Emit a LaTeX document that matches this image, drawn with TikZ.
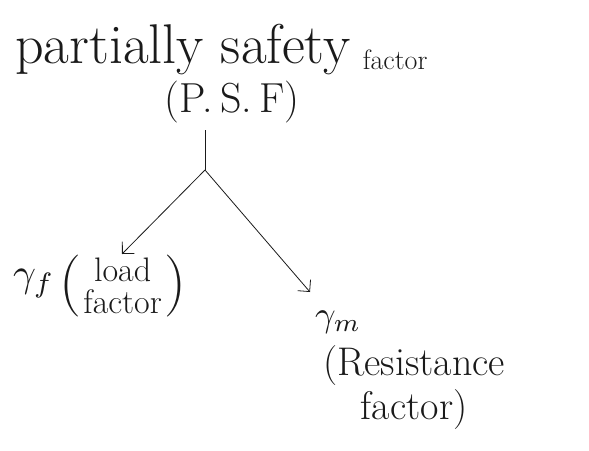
\documentclass[tikz,border=0pt]{standalone}
\usepackage{amsmath,amssymb}
\usepackage{graphicx}
\usepackage{xcolor}
\usepackage{tikz}
\usetikzlibrary{arrows.meta,positioning}
\definecolor{ink}{HTML}{1A1A1A}
\newcommand{\biggam}[2]{\scalebox{#1}{$\gamma_{#2}$}}
\tikzset{
  label/.style={text=ink,inner sep=1pt,align=center},
  arrow/.style={-{Straight Barb[length=3mm]},thick,draw=ink}
}
\begin{document}
\begin{tikzpicture}[x=1pt,y=-1pt]
\useasboundingbox (0,0) rectangle (589,450);
\node[label,font=\fontsize{56}{60}\selectfont,anchor=west] (title) at (14,50) {partially safety};
\node[label,font=\fontsize{28}{30}\selectfont,anchor=west] (fac) at ([xshift=10pt,yshift=-10pt]title.east) {factor};
\node[label,font=\fontsize{42}{48}\selectfont] (psf) at (232,102) {(P.\,S.\,F)};
\coordinate (split) at (205,170);
\node[label,anchor=west] (gf) at (12,284) {\biggam{4}{f}};
\node[label,font=\fontsize{62}{66}\selectfont,anchor=west] (lp) at ([xshift=2pt,yshift=-2pt]gf.east) {(};
\node[label,font=\fontsize{34}{32}\selectfont,anchor=west] (lf) at (lp.east) {load\\factor};
\node[label,font=\fontsize{62}{66}\selectfont,anchor=west] (rp) at (lf.east) {)};
\node[label,anchor=west] (gm) at (314,322) {\biggam{3.6}{m}};
\node[label,font=\fontsize{40}{44}\selectfont,anchor=north west] (res) at (322,344) {(Resistance\\ factor)};
\draw[thick,draw=ink] (205,130) -- (split);
\draw[arrow] (split) -- (122,254);
\draw[arrow] (split) -- (310,292);
\end{tikzpicture}
\end{document}
